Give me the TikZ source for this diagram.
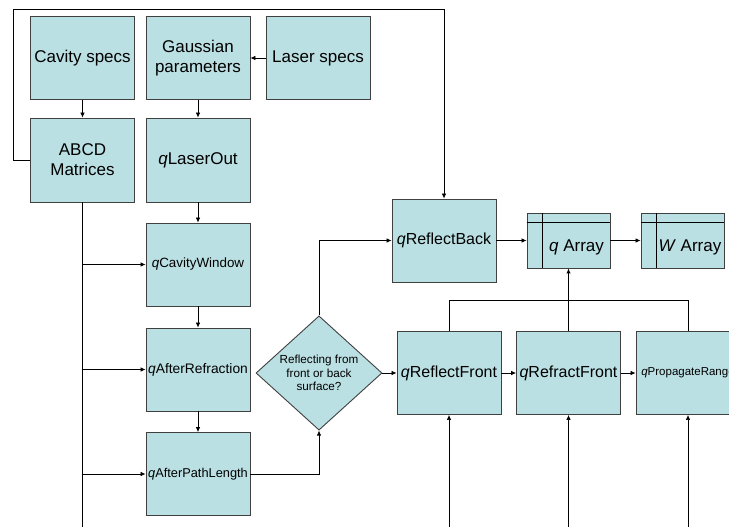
\documentclass[tikz,border=0pt]{standalone}
\usepackage{fontspec}
\setmainfont{Liberation Sans}
\usetikzlibrary{shapes.geometric,arrows.meta}
\definecolor{boxfill}{HTML}{BBE0E3}
\definecolor{boxline}{HTML}{404040}
\tikzset{
  blk/.style={draw=boxline, fill=boxfill, line width=0.9pt, inner sep=0pt, align=center,
    minimum width=104pt, minimum height=83pt, font=\fontsize{17}{20}\selectfont},
  medfont/.style={font=\fontsize{16}{19}\selectfont},
  smallfont/.style={font=\fontsize{11.5}{13}\selectfont},
  arr/.style={-{Latex[length=5pt,width=4.5pt]}, line width=0.7pt},
  ln/.style={line width=0.7pt},
  lbl/.style={inner sep=0pt, font=\fontsize{17}{20}\selectfont},
}
\begin{document}
\begin{tikzpicture}[x=1pt,y=-1pt]
\useasboundingbox (0,0) rectangle (729,527);
\clip (0,0) rectangle (729,527);
% top row
\node[blk] (cav) at (82.5,58) {Cavity specs};
\node[blk] (gau) at (198,58) {Gaussian\\parameters};
\node[blk] (las) at (318,58) {Laser specs};
% second row
\node[blk, minimum height=84pt] (abcd) at (82.5,160) {ABCD\\Matrices};
\node[blk, minimum height=84pt] (qlo) at (198,160) {\textit{q}LaserOut};
% chain
\node[blk, font=\fontsize{13.4}{15}\selectfont] (qcw) at (198,264.5) {\textit{q}CavityWindow};
\node[blk, font=\fontsize{13.8}{15}\selectfont] (qar) at (198,369.5) {\textit{q}AfterRefraction};
\node[blk, font=\fontsize{12.8}{14}\selectfont] (qapl) at (198,474) {\textit{q}AfterPathLength};
% diamond
\node[draw=boxline, fill=boxfill, line width=0.9pt, shape=diamond, inner sep=0pt,
  minimum width=126pt, minimum height=114pt, align=center,
  font=\fontsize{11.7}{13.5}\selectfont] (dec) at (319,373) {Reflecting from\\front or back\\surface?};
% right side
\node[blk, medfont] (qrb) at (444,240.5) {\textit{q}ReflectBack};
\node[blk, minimum width=83pt, minimum height=55pt] (qarr) at (568.5,240.5) {};
\node[blk, minimum width=83pt, minimum height=55pt] (warr) at (682.5,240.5) {};
\draw[ln] (qarr.north west) ++(0,10) -- ++(83,0);
\draw[ln] (qarr.north west) ++(16,0) -- ++(0,55);
\draw[ln] (warr.north west) ++(0,10) -- ++(83,0);
\draw[ln] (warr.north west) ++(16,0) -- ++(0,55);
\node[lbl] (qarrt) at (576.5,247) {\textit{q} Array};
\node[lbl] (warrt) at (690,247) {\textit{W} Array};
\node[blk, medfont] (qrf) at (449,373) {\textit{q}ReflectFront};
\node[blk, medfont] (qrfr) at (568.5,373) {\textit{q}RefractFront};
\node[blk, smallfont] (qpr) at (688,373) {\textit{q}PropagateRange};
% coordinates
\coordinate (b1) at (449,527);
\coordinate (b2) at (568.5,527);
\coordinate (b3) at (688,527);
\coordinate (abot) at (82,527);
% connectors
\draw[arr] (cav) -- (abcd);
\draw[arr] (gau) -- (qlo);
\draw[arr] (las) -- (gau);
\draw[arr] (qlo) -- (qcw);
\draw[arr] (qcw) -- (qar);
\draw[arr] (qar) -- (qapl);
\draw[ln] (abcd.south -| abot) -- (abot);
\draw[arr] (82,264.5) -- (qcw.west);
\draw[arr] (82,369.5) -- (qar.west);
\draw[arr] (82,474) -- (qapl.west);
\draw[arr] (abcd.west) -- (13,160) -- (13,9) -- (qrb.north |- 0,9) -- (qrb.north);
\draw[arr] (qapl.east) -- (dec.south |- qapl.east) -- (dec.south);
\draw[arr] (dec.north) -- (319,240.5) -- (qrb.west);
\draw[arr] (dec.east) -- (qrf.west);
\draw[arr] (qrf.east) -- (qrfr.west);
\draw[arr] (qrfr.east) -- (qpr.west);
\draw[arr] (qrb.east) -- (qarr.west);
\draw[arr] (qarr.east) -- (warr.west);
\draw[ln] (qrf.north) -- (449,300) -- (688,300) -- (qpr.north);
\draw[ln] (qrfr.north) -- (568.5,300);
\draw[arr, line width=1.6pt] (568.5,300) -- (qarr.south);
\draw[arr] (b1) -- (qrf.south);
\draw[arr] (b2) -- (qrfr.south);
\draw[arr] (b3) -- (qpr.south);
\end{tikzpicture}
\end{document}
